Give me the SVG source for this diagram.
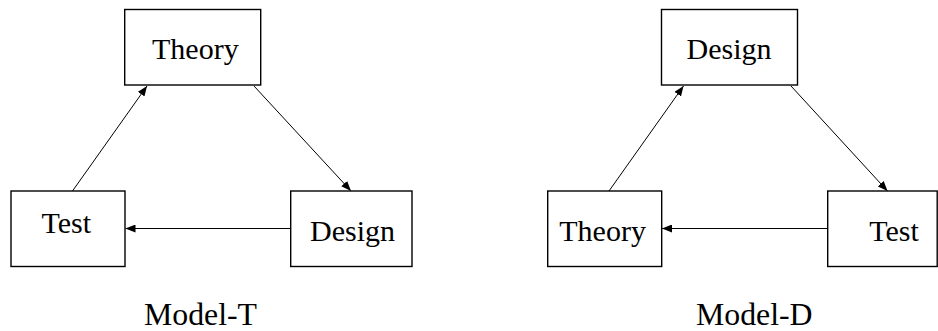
<svg xmlns="http://www.w3.org/2000/svg" width="938" height="331" viewBox="0 0 938 331">
<style>
.box{fill:#fff;stroke:#000;stroke-width:1.4}
.t{font-family:"Liberation Serif","Times New Roman",serif;font-size:30px;fill:#000}
.lbl{font-size:31.8px}
.c{stroke:#000;stroke-width:1;fill:none;marker-end:url(#ah)}
</style>
<defs>
<marker id="ah" viewBox="0 0 10 8" refX="10" refY="4" markerWidth="10" markerHeight="8" markerUnits="userSpaceOnUse" orient="auto">
<path d="M0,0 L10,4 L0,8 Z" fill="#000"/>
</marker>
</defs>
<rect width="938" height="331" fill="#fff"/>
<g id="connectors">
<line class="c" x1="72.5" y1="191" x2="147" y2="86"/>
<line class="c" x1="254" y1="86" x2="351" y2="191"/>
<line class="c" x1="290.5" y1="228.5" x2="125.5" y2="228.5"/>
<line class="c" x1="609" y1="191" x2="683.5" y2="86"/>
<line class="c" x1="791" y1="86" x2="887.5" y2="191"/>
<line class="c" x1="827.5" y1="228.5" x2="662" y2="228.5"/>
</g>
<g id="t-theory">
<rect class="box" x="124.7" y="9.5" width="136" height="75.5"/>
<text class="t" x="152" y="59">Theory</text>
</g>
<g id="t-test">
<rect class="box" x="11" y="191" width="114" height="75.5"/>
<text class="t" x="41.5" y="233">Test</text>
</g>
<g id="t-design">
<rect class="box" x="290.7" y="191" width="121.3" height="75.5"/>
<text class="t" x="310" y="241">Design</text>
</g>
<g id="t-label">
<text class="t lbl" x="144" y="325">Model-T</text>
</g>
<g id="d-design">
<rect class="box" x="661.5" y="9.5" width="136" height="75.5"/>
<text class="t" x="686.5" y="59">Design</text>
</g>
<g id="d-theory">
<rect class="box" x="547.7" y="191" width="114" height="75.5"/>
<text class="t" x="559.3" y="241">Theory</text>
</g>
<g id="d-test">
<rect class="box" x="827.7" y="191" width="109.5" height="75.5"/>
<text class="t" x="869.3" y="241">Test</text>
</g>
<g id="d-label">
<text class="t lbl" x="696" y="325">Model-D</text>
</g>
</svg>
